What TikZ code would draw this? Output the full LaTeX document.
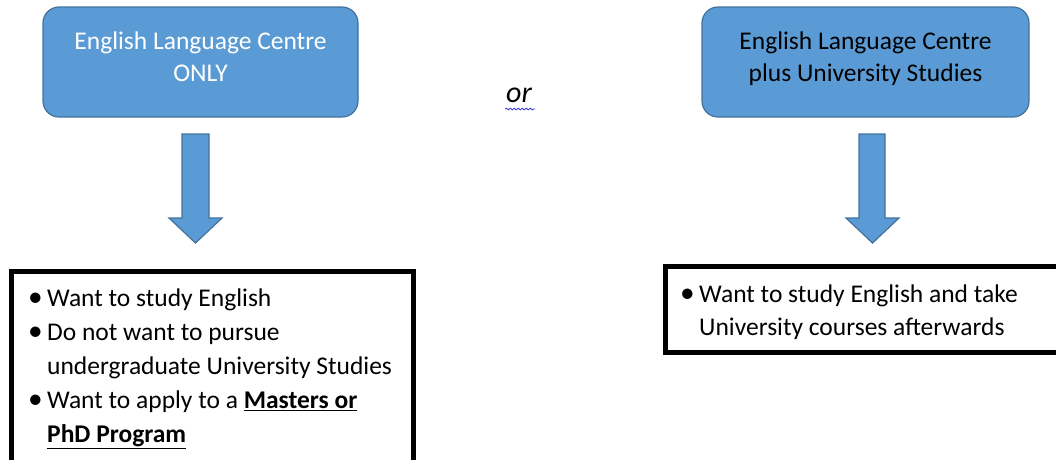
\documentclass[tikz,border=0pt]{standalone}
\usepackage{fontspec}
\setmainfont{Carlito}
\usetikzlibrary{decorations.pathmorphing}
\definecolor{boxblue}{HTML}{5B9BD5}
\definecolor{boxedge}{HTML}{41719C}
\definecolor{squiggle}{HTML}{3A3AD8}
\tikzset{
  topbox/.style={draw=boxedge, line width=1.2pt, fill=boxblue, rounded corners=16pt,
    minimum width=315pt, minimum height=110pt, align=center, inner sep=0pt,
    font=\fontsize{25.5}{32}\selectfont},
  blockarrow/.style={draw=boxedge, line width=1.2pt, fill=boxblue},
  listbox/.style={draw=black, line width=5pt},
  listtext/.style={align=left, inner sep=0pt, anchor=north west,
    font=\fontsize{25.5}{34}\selectfont}
}
\newcommand\bul{\makebox[17pt][l]{\hspace*{-2pt}\scalebox{1.15}{\textbullet}}}
\newcommand\ind{\hspace*{17pt}}
\begin{document}
\begin{tikzpicture}[x=1pt,y=-1pt]
\useasboundingbox (0,0) rectangle (1056,459);
\clip (0,0) rectangle (1056,459);
% top boxes
\node[topbox, text=white, text depth=10pt] (elc) at (200.5,62) {English Language Centre\\ONLY};
\node[topbox, text=black, minimum width=327pt, text depth=10pt] (elcu) at (865.5,62) {English Language Centre\\plus University Studies};
% or
\node[font=\fontsize{30}{30}\selectfont\itshape, inner sep=0pt] (or) at (519,95) {or};
\coordinate (sqa) at (505,109);
\coordinate (sqb) at (535,109);
\draw[squiggle, line width=0.8pt, decorate, decoration={snake, amplitude=0.9pt, segment length=4pt}] (sqa) -- (sqb);
% arrows
\draw[blockarrow] (182,134) -- (209,134) -- (209,218) -- (222,218) -- (195.5,243) -- (169,218) -- (182,218) -- cycle;
\draw[blockarrow] (859,134) -- (885,134) -- (885,218) -- (899,218) -- (872.5,243) -- (846,218) -- (859,218) -- cycle;
% list boxes
\draw[listbox] (11.5,271) rectangle (413.5,464);
\draw[listbox] (665,266) rectangle (1070,352);
\node[listtext] (ltxt) at (30,289) {\bul Want to study English\\
\bul Do not want to pursue\\
\ind undergraduate University Studies\\
\bul Want to apply to a \textbf{\underline{Masters or}}\\
\ind\textbf{\underline{PhD Program}}};
\node[listtext, font=\fontsize{25.5}{33}\selectfont] (rtxt) at (682,285) {\bul Want to study English and take\\
\ind University courses afterwards};
\end{tikzpicture}
\end{document}
